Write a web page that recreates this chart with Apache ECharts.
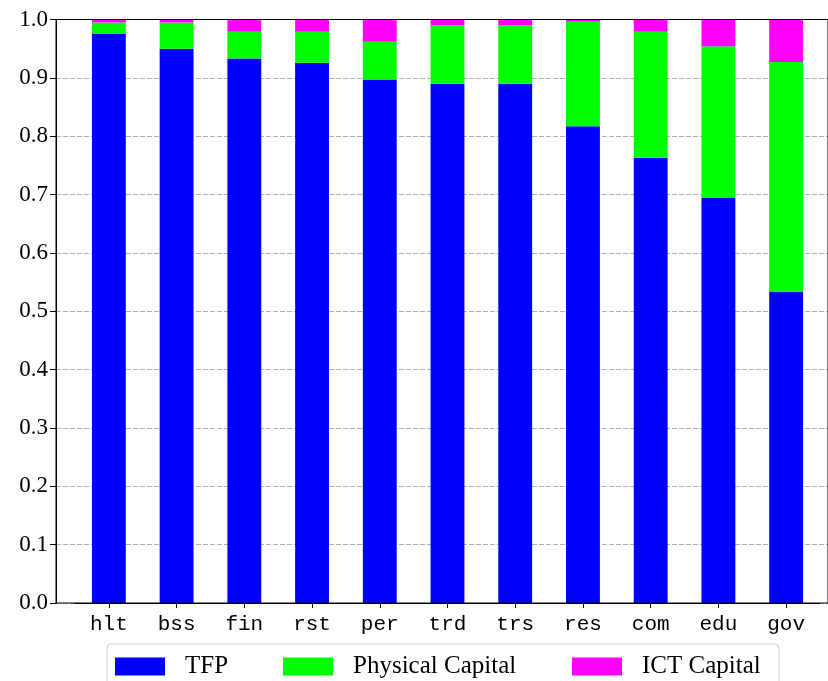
<!DOCTYPE html>
<html>
<head>
<meta charset="utf-8">
<script src="https://cdn.jsdelivr.net/npm/echarts@6/dist/echarts.min.js"></script>
<style>
  html, body { margin: 0; padding: 0; background: #fff; }
  #chart { width: 828px; height: 681px; }
</style>
</head>
<body>
<div id="chart"></div>
<script>
// Sector labels along the x axis
const sectors = ['hlt', 'bss', 'fin', 'rst', 'per', 'trd', 'trs', 'res', 'com', 'edu', 'gov'];

// Share of growth attributed to each source (stacked to 1.0)
const tfp = [0.976, 0.950, 0.933, 0.926, 0.897, 0.890, 0.890, 0.817, 0.763, 0.694, 0.534];
const physicalCapital = [0.019, 0.045, 0.046, 0.053, 0.065, 0.100, 0.100, 0.179, 0.216, 0.260, 0.393];
const ictCapital = [0.005, 0.005, 0.021, 0.021, 0.038, 0.010, 0.010, 0.004, 0.021, 0.046, 0.073];

// Y axis tick settings
const yMin = 0, yMax = 1, yStep = 0.1;

const seriesNames = ['TFP', 'Physical Capital', 'ICT Capital'];
const seriesColors = ['#0000ff', '#00ff00', '#ff00ff'];
const seriesData = [tfp, physicalCapital, ictCapital];

const serif = '"Liberation Serif", "DejaVu Serif", serif';
const mono = '"Liberation Mono", "DejaVu Sans Mono", monospace';

const chart = echarts.init(document.getElementById('chart'), null, { renderer: 'canvas' });

// One legend block per item so each sits at its own column
const legendLefts = [115, 283, 572];
const legends = seriesNames.map((name, i) => ({
  data: [name],
  left: legendLefts[i],
  top: 654,
  orient: 'horizontal',
  itemWidth: 50,
  itemHeight: 18,
  padding: 0,
  selectedMode: false,
  icon: 'rect',
  textStyle: { fontFamily: serif, fontSize: 25, color: '#000', padding: [0, 0, 0, 15] }
}));

chart.setOption({
  animation: false,
  backgroundColor: '#fff',
  grid: [
    // frame, y axis and gridlines
    { left: 56, right: -20, top: 19.5, bottom: 78, show: true, borderColor: '#000', borderWidth: 1, backgroundColor: 'transparent', z: 3 },
    // bar area (matplotlib-style margins around the categories)
    { left: 75, right: 8, top: 19.5, bottom: 78 }
  ],
  legend: legends,
  graphic: [{
    type: 'rect',
    shape: { x: 107, y: 644, width: 672, height: 60, r: 4 },
    style: { fill: 'rgba(255,255,255,0.8)', stroke: '#d0d0d0', lineWidth: 1 },
    z: -1
  }],
  xAxis: [
    { type: 'value', gridIndex: 0, min: 0, max: 1, show: false },
    {
      type: 'category', gridIndex: 1, data: sectors,
      axisLine: { show: true, lineStyle: { color: '#000', width: 1 } },
      axisTick: { show: true, alignWithLabel: true, length: 5, lineStyle: { color: '#000' } },
      axisLabel: { fontFamily: mono, fontSize: 21, color: '#000', margin: 11 },
      splitLine: { show: false }
    }
  ],
  yAxis: [
    {
      type: 'value', gridIndex: 0, min: yMin, max: yMax, interval: yStep,
      axisLine: { show: true, lineStyle: { color: '#000', width: 1 } },
      axisTick: { show: true, length: 6, lineStyle: { color: '#000' } },
      axisLabel: { fontFamily: serif, fontSize: 23, color: '#000', margin: 8,
        formatter: v => v.toFixed(1) },
      splitLine: { show: true, lineStyle: { color: '#b0b0b0', type: [5, 2], width: 1 } }
    },
    { type: 'value', gridIndex: 1, min: yMin, max: yMax, show: false }
  ],
  series: seriesNames.map((name, i) => ({
    name,
    type: 'bar',
    stack: 'share',
    xAxisIndex: 1,
    yAxisIndex: 1,
    barWidth: '50%',
    itemStyle: { color: seriesColors[i] },
    data: seriesData[i]
  }))
});
</script>
</body>
</html>
